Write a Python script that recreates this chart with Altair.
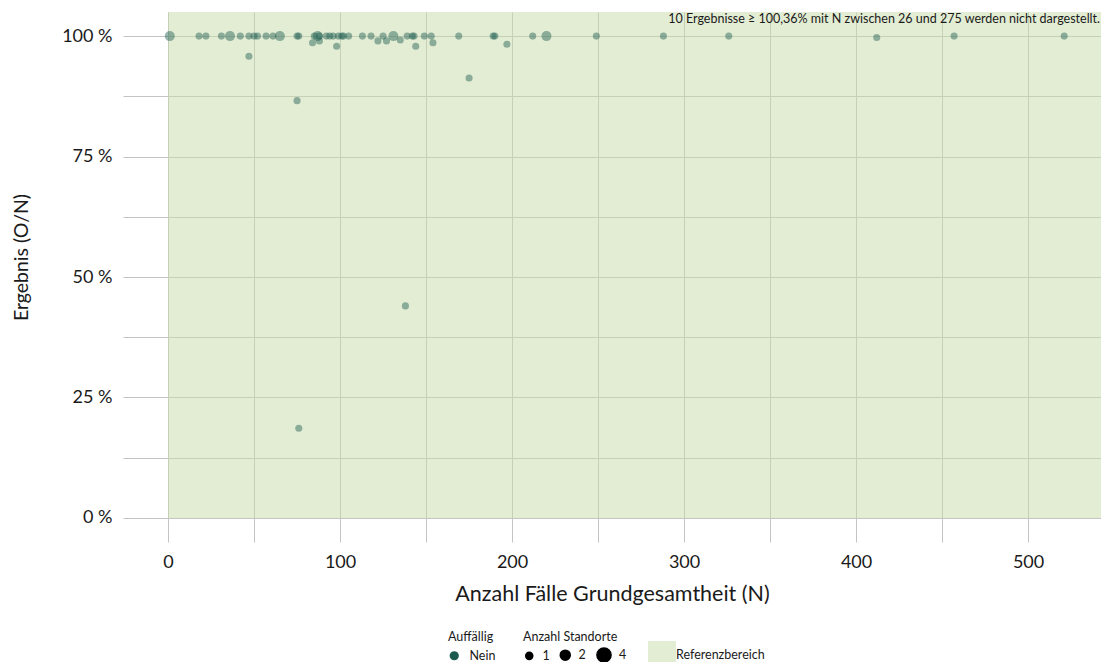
import altair as alt
import pandas as pd

# ---- data ----
n_faelle = [1, 18, 22, 31, 36, 42, 47, 47, 50, 52, 57, 61, 65, 75, 76, 75, 76,
            84, 85, 87, 88, 88, 92, 94, 96, 98, 99, 101, 102, 105, 113, 118,
            122, 125, 127, 131, 135, 139, 138, 142, 143, 144, 149, 153, 154,
            169, 175, 189, 190, 197, 212, 220, 249, 288, 326, 412, 457, 521]
ergebnis = [100, 100, 100, 100, 100, 100, 100, 95.8, 100, 100, 100, 100, 100,
            100, 100, 86.6, 18.6, 98.6, 100, 100, 99.0, 100, 100, 100, 100,
            97.9, 100, 100, 100, 100, 100, 100, 99.0, 100, 99.0, 100, 99.2,
            100, 44.0, 100, 100, 97.9, 100, 100, 98.6, 100, 91.3, 100, 100,
            98.3, 100, 100, 100, 100, 100, 99.7, 100, 100]
standorte = [2, 1, 1, 1, 2, 1, 1, 1, 1, 1, 1, 1, 2, 1, 1, 1, 1, 1, 1, 2, 1, 1,
             1, 1, 1, 1, 1, 1, 1, 1, 1, 1, 1, 1, 1, 2, 1, 1, 1, 1, 1, 1, 1, 1,
             1, 1, 1, 1, 1, 1, 1, 2, 1, 1, 1, 1, 1, 1]
auffaellig = ["Nein"] * len(n_faelle)

x_ticks = [0, 50, 100, 150, 200, 250, 300, 350, 400, 450, 500]
y_ticks = [0, 12.5, 25, 37.5, 50, 62.5, 75, 87.5, 100]
size_values = [1, 2, 4]

X_DOMAIN = [-26.2, 542.4]
Y_DOMAIN = [-5, 105]

ref_label = ["Referenzbereich"]
ref_x = [0]
ref_y = [0]

note = "10 Ergebnisse \u2265 100,36% mit N zwischen 26 und 275 werden nicht dargestellt."

FONT = "Lato"
TEXT = "#1a1a1a"

points_df = pd.DataFrame({
    "N": n_faelle,
    "Ergebnis": ergebnis,
    "Standorte": standorte,
    "Auffällig": auffaellig,
})
ref_df = pd.DataFrame({
    "x": ref_x, "x2": [X_DOMAIN[1]],
    "y": ref_y, "y2": [Y_DOMAIN[1]],
    "label": ref_label,
})
note_df = pd.DataFrame({"x": [X_DOMAIN[1]], "y": [Y_DOMAIN[1]], "text": [note]})

x_scale = alt.Scale(domain=X_DOMAIN, nice=False, zero=False)
y_scale = alt.Scale(domain=Y_DOMAIN, nice=False, zero=False)

x_axis = alt.Axis(
    values=x_ticks,
    labelExpr="datum.value % 100 == 0 ? datum.label : ''",
    title="Anzahl Fälle Grundgesamtheit (N)",
    grid=True, gridColor="#c4c4c4", gridWidth=1,
    domain=False, ticks=False,
    labelFontSize=18, labelPadding=11, labelColor=TEXT, labelFont=FONT,
    titleFontSize=21.5, titleFontWeight="normal", titlePadding=12,
    titleColor=TEXT, titleFont=FONT,
)
y_axis = alt.Axis(
    values=y_ticks,
    labelExpr="datum.value % 25 == 0 ? datum.value + ' %' : ''",
    title="Ergebnis (O/N)",
    grid=True, gridColor="#c4c4c4", gridWidth=1,
    domain=False, ticks=False,
    labelFontSize=18, labelPadding=11, labelColor=TEXT, labelFont=FONT,
    titleFontSize=19.5, titleFontWeight="normal", titleColor=TEXT, titleFont=FONT,
    titleX=-92, titleY=245,
)

ref = alt.Chart(ref_df).mark_rect(opacity=0.5).encode(
    x=alt.X("x:Q", scale=x_scale, axis=x_axis),
    x2="x2:Q",
    y=alt.Y("y:Q", scale=y_scale, axis=y_axis),
    y2="y2:Q",
    fill=alt.Fill(
        "label:N",
        scale=alt.Scale(domain=ref_label, range=["#c7dba9"]),
        legend=alt.Legend(
            title=None, orient="none", legendX=525, legendY=629,
            symbolType="square", symbolSize=784, symbolOpacity=0.5,
            symbolStrokeWidth=0,
            labelFontSize=12.5, labelFont=FONT, labelColor=TEXT, labelOffset=0,
        ),
    ),
)

pts = alt.Chart(points_df).mark_circle(opacity=0.45).encode(
    x=alt.X("N:Q", scale=x_scale),
    y=alt.Y("Ergebnis:Q", scale=y_scale),
    color=alt.Color(
        "Auffällig:N",
        scale=alt.Scale(domain=["Nein"], range=["#1b5a4f"]),
        legend=alt.Legend(
            title="Auffällig", orient="none", legendX=325, legendY=619,
            direction="horizontal", symbolSize=85, symbolOpacity=1,
            titleFontSize=12.5, titleFontWeight="normal", titleFont=FONT,
            titleColor=TEXT, titlePadding=6, labelOffset=9,
            labelFontSize=12.5, labelFont=FONT, labelColor=TEXT,
        ),
    ),
    size=alt.Size(
        "Standorte:Q",
        scale=alt.Scale(domain=[1, 4], range=[50, 200], zero=False),
        legend=alt.Legend(
            title="Anzahl Standorte", orient="none", legendX=400, legendY=619,
            direction="horizontal", values=size_values, format="d",
            symbolOpacity=1,
            symbolFillColor="black", symbolStrokeColor="black",
            columnPadding=7, labelOffset=7,
            titleFontSize=12.5, titleFontWeight="normal", titleFont=FONT,
            titleColor=TEXT, titlePadding=3,
            labelFontSize=12.5, labelFont=FONT, labelColor=TEXT,
        ),
    ),
)

txt = alt.Chart(note_df).mark_text(
    align="right", baseline="top", dx=-1, dy=1, fontSize=12.5, font=FONT, color=TEXT
).encode(
    x=alt.X("x:Q", scale=x_scale),
    y=alt.Y("y:Q", scale=y_scale),
    text="text:N",
)

chart = alt.layer(ref, pts, txt).resolve_scale(
    fill="independent", color="independent"
).properties(
    width=978, height=530,
    autosize=alt.AutoSizeParams(type="none"),
    padding={"left": 115, "top": 4, "right": 0, "bottom": 120},
    background="white",
).configure_view(strokeWidth=0)

chart.save("out.html", embed_options={"renderer": "svg", "actions": False})
